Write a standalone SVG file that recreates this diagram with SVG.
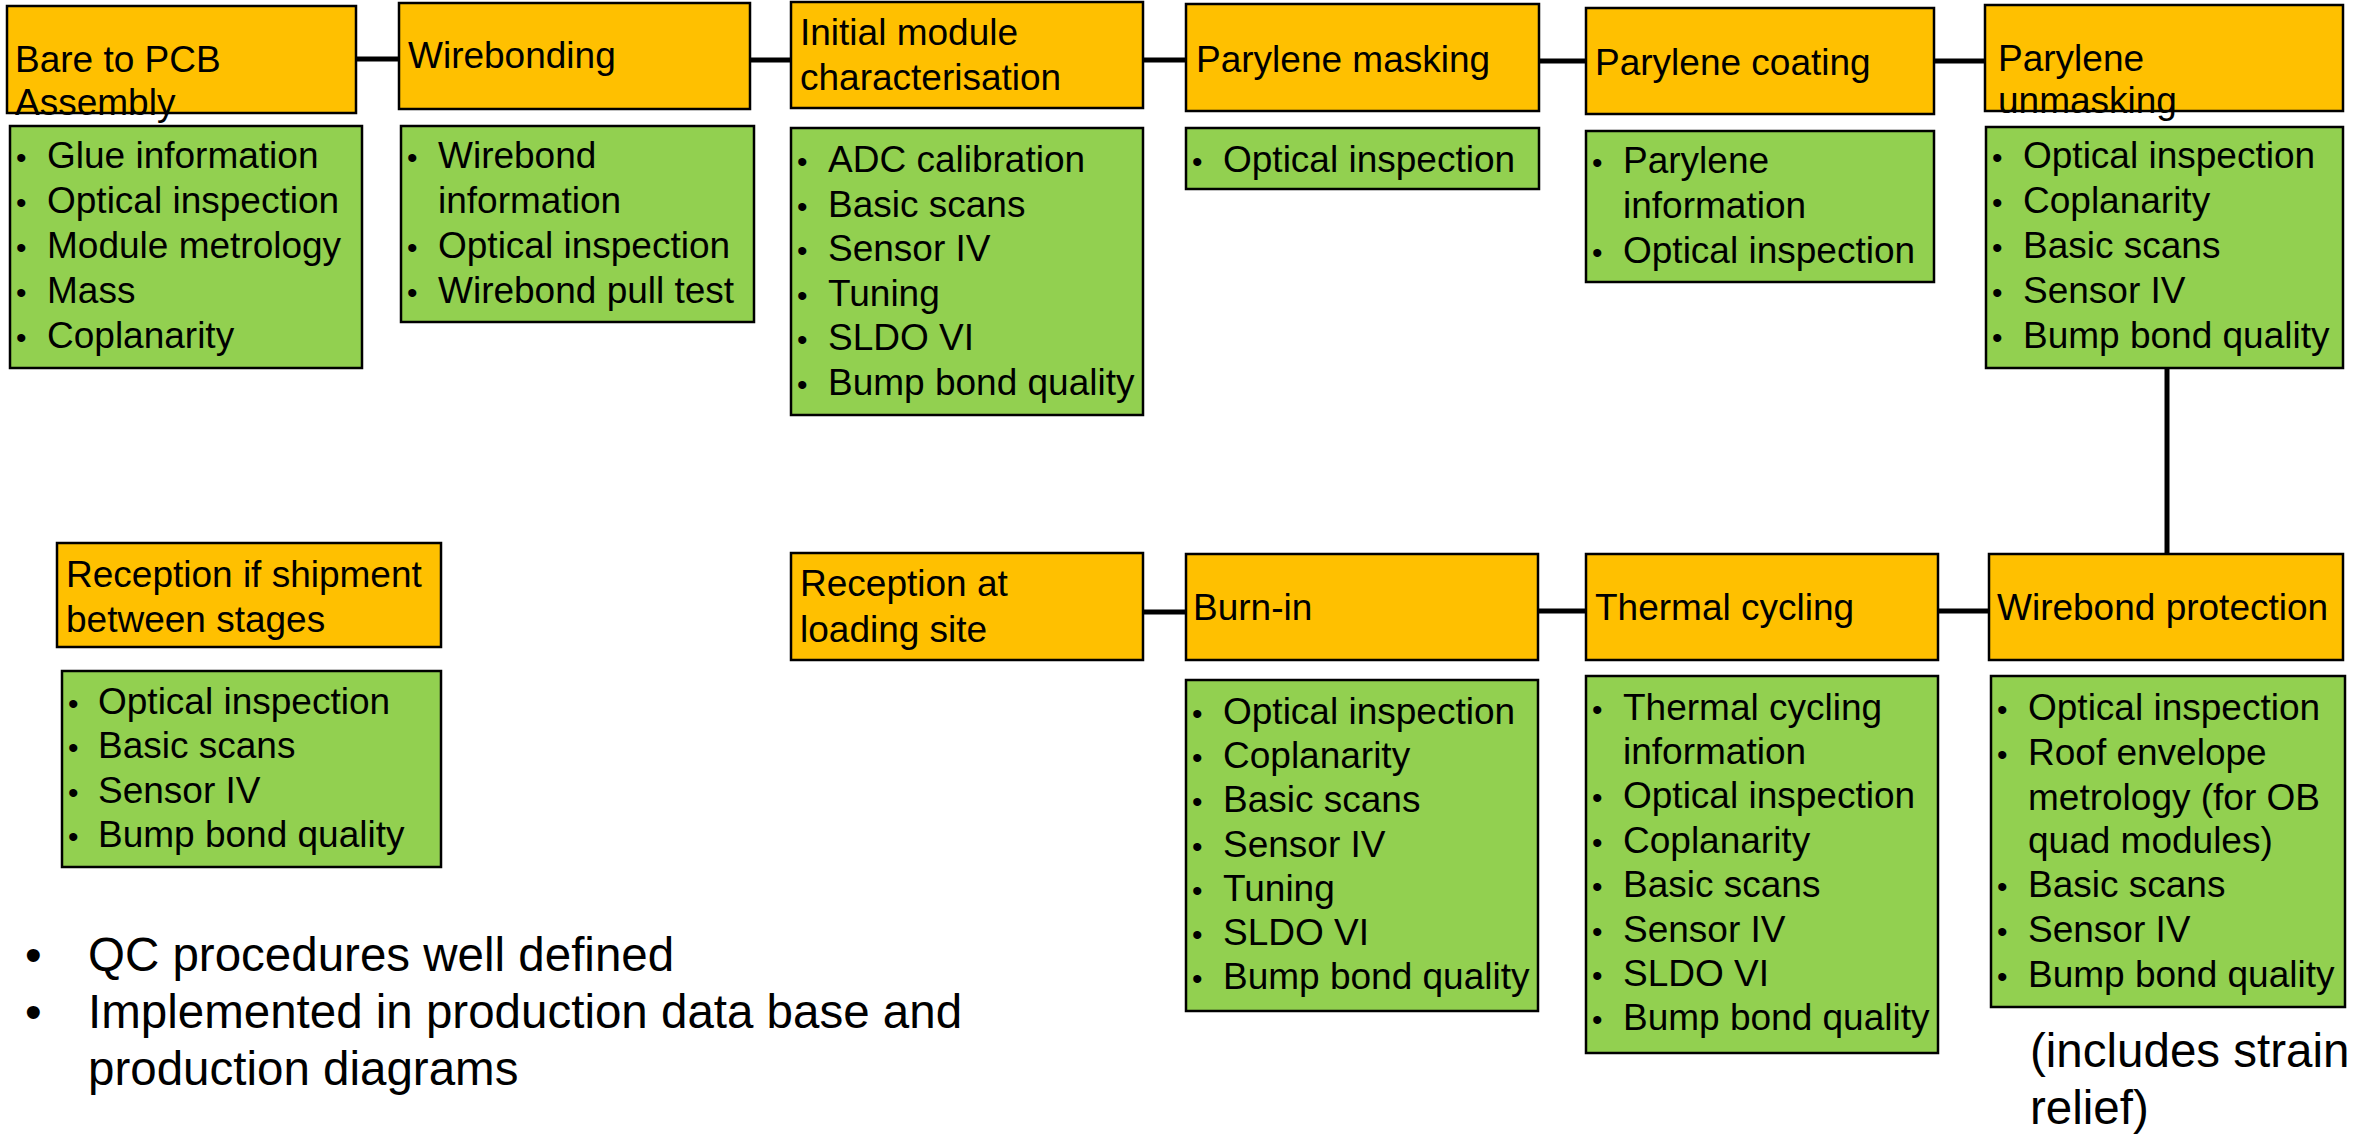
<svg xmlns="http://www.w3.org/2000/svg" width="2368" height="1136" viewBox="0 0 2368 1136">
<style>
text{font-family:"Liberation Sans",Arial,sans-serif;fill:#000}
.t{font-size:37px}
.b{font-size:30px}
.big{font-size:47.5px}
.step{fill:#FFC000;stroke:#000;stroke-width:2.5}
.qc{fill:#92D050;stroke:#000;stroke-width:2.5}
.con{stroke:#000;stroke-width:5;fill:none}
</style>
<rect width="2368" height="1136" fill="#fff"/>
<g id="connectors">
<line class="con" x1="356" y1="59" x2="399" y2="59"/>
<line class="con" x1="750" y1="60" x2="791" y2="60"/>
<line class="con" x1="1143" y1="60" x2="1186" y2="60"/>
<line class="con" x1="1539" y1="61" x2="1586" y2="61"/>
<line class="con" x1="1934" y1="61" x2="1985" y2="61"/>
<line class="con" x1="2167" y1="368" x2="2167" y2="554"/>
<line class="con" x1="1143" y1="612" x2="1186" y2="612"/>
<line class="con" x1="1538" y1="611" x2="1586" y2="611"/>
<line class="con" x1="1938" y1="611" x2="1989" y2="611"/>
</g>
<g id="bare-to-pcb">
<rect class="step" x="7" y="6" width="349" height="107"/>
<text class="t" x="15" y="72">Bare to PCB</text>
<text class="t" x="15" y="115">Assembly</text>
</g>
<g id="bare-to-pcb-qc">
<rect class="qc" x="10" y="126" width="352" height="242"/>
<text class="b" x="16" y="168">•</text><text class="t" x="47" y="168">Glue information</text>
<text class="b" x="16" y="213">•</text><text class="t" x="47" y="213">Optical inspection</text>
<text class="b" x="16" y="258">•</text><text class="t" x="47" y="258">Module metrology</text>
<text class="b" x="16" y="303">•</text><text class="t" x="47" y="303">Mass</text>
<text class="b" x="16" y="348">•</text><text class="t" x="47" y="348">Coplanarity</text>
</g>
<g id="wirebonding">
<rect class="step" x="399" y="3" width="351" height="106"/>
<text class="t" x="408" y="68">Wirebonding</text>
</g>
<g id="wirebonding-qc">
<rect class="qc" x="401" y="126" width="353" height="196"/>
<text class="b" x="407" y="168">•</text><text class="t" x="438" y="168">Wirebond</text>
<text class="t" x="438" y="213">information</text>
<text class="b" x="407" y="258">•</text><text class="t" x="438" y="258">Optical inspection</text>
<text class="b" x="407" y="303">•</text><text class="t" x="438" y="303">Wirebond pull test</text>
</g>
<g id="initial-characterisation">
<rect class="step" x="791" y="2" width="352" height="106"/>
<text class="t" x="800" y="45">Initial module</text>
<text class="t" x="800" y="90">characterisation</text>
</g>
<g id="initial-characterisation-qc">
<rect class="qc" x="791" y="128" width="352" height="287"/>
<text class="b" x="797" y="172">•</text><text class="t" x="828" y="172">ADC calibration</text>
<text class="b" x="797" y="217">•</text><text class="t" x="828" y="217">Basic scans</text>
<text class="b" x="797" y="261">•</text><text class="t" x="828" y="261">Sensor IV</text>
<text class="b" x="797" y="306">•</text><text class="t" x="828" y="306">Tuning</text>
<text class="b" x="797" y="350">•</text><text class="t" x="828" y="350">SLDO VI</text>
<text class="b" x="797" y="395">•</text><text class="t" x="828" y="395">Bump bond quality</text>
</g>
<g id="parylene-masking">
<rect class="step" x="1186" y="4" width="353" height="107"/>
<text class="t" x="1196" y="72">Parylene masking</text>
</g>
<g id="parylene-masking-qc">
<rect class="qc" x="1186" y="128" width="353" height="61"/>
<text class="b" x="1192" y="172">•</text><text class="t" x="1223" y="172">Optical inspection</text>
</g>
<g id="parylene-coating">
<rect class="step" x="1586" y="8" width="348" height="106"/>
<text class="t" x="1595" y="75">Parylene coating</text>
</g>
<g id="parylene-coating-qc">
<rect class="qc" x="1586" y="131" width="348" height="151"/>
<text class="b" x="1592" y="173">•</text><text class="t" x="1623" y="173">Parylene</text>
<text class="t" x="1623" y="218">information</text>
<text class="b" x="1592" y="263">•</text><text class="t" x="1623" y="263">Optical inspection</text>
</g>
<g id="parylene-unmasking">
<rect class="step" x="1985" y="5" width="358" height="106"/>
<text class="t" x="1998" y="71">Parylene</text>
<text class="t" x="1998" y="113">unmasking</text>
</g>
<g id="parylene-unmasking-qc">
<rect class="qc" x="1986" y="127" width="357" height="241"/>
<text class="b" x="1992" y="168">•</text><text class="t" x="2023" y="168">Optical inspection</text>
<text class="b" x="1992" y="213">•</text><text class="t" x="2023" y="213">Coplanarity</text>
<text class="b" x="1992" y="258">•</text><text class="t" x="2023" y="258">Basic scans</text>
<text class="b" x="1992" y="303">•</text><text class="t" x="2023" y="303">Sensor IV</text>
<text class="b" x="1992" y="348">•</text><text class="t" x="2023" y="348">Bump bond quality</text>
</g>
<g id="reception-shipment">
<rect class="step" x="57" y="543" width="384" height="104"/>
<text class="t" x="66" y="587">Reception if shipment</text>
<text class="t" x="66" y="632">between stages</text>
</g>
<g id="reception-shipment-qc">
<rect class="qc" x="62" y="671" width="379" height="196"/>
<text class="b" x="68" y="714">•</text><text class="t" x="98" y="714">Optical inspection</text>
<text class="b" x="68" y="758">•</text><text class="t" x="98" y="758">Basic scans</text>
<text class="b" x="68" y="803">•</text><text class="t" x="98" y="803">Sensor IV</text>
<text class="b" x="68" y="847">•</text><text class="t" x="98" y="847">Bump bond quality</text>
</g>
<g id="reception-loading">
<rect class="step" x="791" y="553" width="352" height="107"/>
<text class="t" x="800" y="596">Reception at</text>
<text class="t" x="800" y="642">loading site</text>
</g>
<g id="burn-in">
<rect class="step" x="1186" y="554" width="352" height="106"/>
<text class="t" x="1193" y="620">Burn-in</text>
</g>
<g id="burn-in-qc">
<rect class="qc" x="1186" y="680" width="352" height="331"/>
<text class="b" x="1192" y="724">•</text><text class="t" x="1223" y="724">Optical inspection</text>
<text class="b" x="1192" y="768">•</text><text class="t" x="1223" y="768">Coplanarity</text>
<text class="b" x="1192" y="812">•</text><text class="t" x="1223" y="812">Basic scans</text>
<text class="b" x="1192" y="857">•</text><text class="t" x="1223" y="857">Sensor IV</text>
<text class="b" x="1192" y="901">•</text><text class="t" x="1223" y="901">Tuning</text>
<text class="b" x="1192" y="945">•</text><text class="t" x="1223" y="945">SLDO VI</text>
<text class="b" x="1192" y="989">•</text><text class="t" x="1223" y="989">Bump bond quality</text>
</g>
<g id="thermal-cycling">
<rect class="step" x="1586" y="554" width="352" height="106"/>
<text class="t" x="1595" y="620">Thermal cycling</text>
</g>
<g id="thermal-cycling-qc">
<rect class="qc" x="1586" y="676" width="352" height="377"/>
<text class="b" x="1592" y="720">•</text><text class="t" x="1623" y="720">Thermal cycling</text>
<text class="t" x="1623" y="764">information</text>
<text class="b" x="1592" y="808">•</text><text class="t" x="1623" y="808">Optical inspection</text>
<text class="b" x="1592" y="853">•</text><text class="t" x="1623" y="853">Coplanarity</text>
<text class="b" x="1592" y="897">•</text><text class="t" x="1623" y="897">Basic scans</text>
<text class="b" x="1592" y="942">•</text><text class="t" x="1623" y="942">Sensor IV</text>
<text class="b" x="1592" y="986">•</text><text class="t" x="1623" y="986">SLDO VI</text>
<text class="b" x="1592" y="1030">•</text><text class="t" x="1623" y="1030">Bump bond quality</text>
</g>
<g id="wirebond-protection">
<rect class="step" x="1989" y="554" width="354" height="106"/>
<text class="t" x="1997" y="620">Wirebond protection</text>
</g>
<g id="wirebond-protection-qc">
<rect class="qc" x="1991" y="676" width="354" height="331"/>
<text class="b" x="1997" y="720">•</text><text class="t" x="2028" y="720">Optical inspection</text>
<text class="b" x="1997" y="765">•</text><text class="t" x="2028" y="765">Roof envelope</text>
<text class="t" x="2028" y="810">metrology (for OB</text>
<text class="t" x="2028" y="853">quad modules)</text>
<text class="b" x="1997" y="897">•</text><text class="t" x="2028" y="897">Basic scans</text>
<text class="b" x="1997" y="942">•</text><text class="t" x="2028" y="942">Sensor IV</text>
<text class="b" x="1997" y="987">•</text><text class="t" x="2028" y="987">Bump bond quality</text>
</g>
<g id="notes">
<text class="big" x="25" y="971">•</text><text class="big" x="88" y="971">QC procedures well defined</text>
<text class="big" x="25" y="1028">•</text><text class="big" x="88" y="1028">Implemented in production data base and</text>
<text class="big" x="88" y="1085">production diagrams</text>
<text class="big" x="2030" y="1067">(includes strain</text>
<text class="big" x="2030" y="1124">relief)</text>
</g>
</svg>
